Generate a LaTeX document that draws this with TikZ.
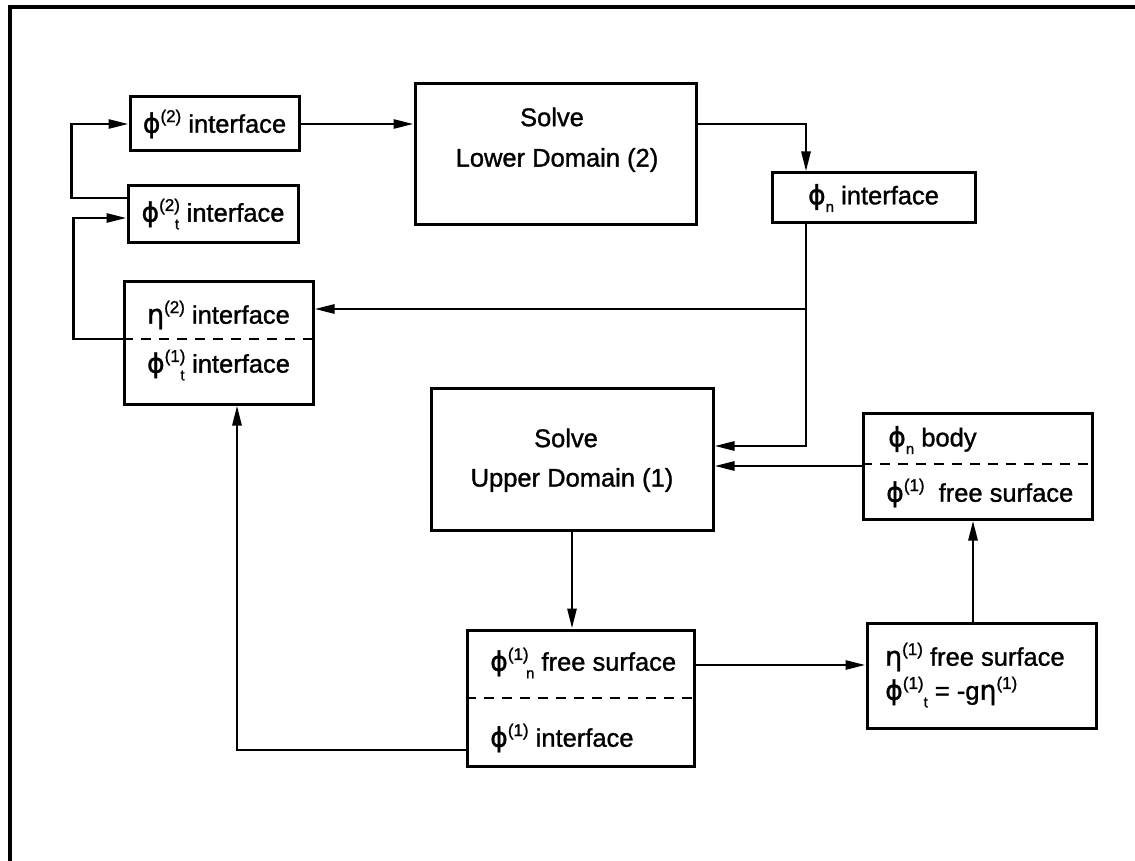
\documentclass[tikz,border=0pt]{standalone}
\usepackage{fontspec}
\setmainfont{Liberation Sans}[FakeBold=1.2,BoldFont={*},BoldFeatures={FakeBold=1.2}]
\newfontfamily\grk{DejaVu Sans}[Scale=1.05,FakeBold=1.2]
\usetikzlibrary{arrows.meta,calc}
\newcommand{\vphi}{{\grk ϕ}}
\newcommand{\veta}{{\grk η}}
\newcommand{\sps}[1]{\raisebox{0.42em}{\fontsize{17}{17}\selectfont #1}}
\newcommand{\sbs}[1]{\raisebox{-0.3em}{\fontsize{15}{15}\selectfont #1}}
\begin{document}
\begin{tikzpicture}[x=1pt,y=-1pt,
  box/.style={draw, line width=3pt, inner sep=0pt, font=\fontsize{25.5}{30}\selectfont},
  txt/.style={inner sep=0pt, font=\fontsize{25.5}{30}\selectfont},
  sep/.style={line width=2.2pt, dash pattern=on 10pt off 8pt},
  arr/.style={line width=2.8pt, -{Triangle[length=20pt,width=9pt]}},
  frame/.style={line width=3.5pt}]
\useasboundingbox (0,0) rectangle (1135,861);
\draw[frame] (10,861) -- (10,7) -- (1135,7);

% boxes
\node[box, minimum width=169pt, minimum height=54pt] (A) at (214.5,124) {\vphi\sps{(2)} interface};
\node[box, minimum width=170pt, minimum height=56pt] (B) at (213,214) {\vphi\sps{(2)}\kern-0.2em\sbs{t}\hspace{0.3em}interface};
\node[box, minimum width=189pt, minimum height=123pt] (C) at (218.5,342.5) {};
\node[box, minimum width=281pt, minimum height=141pt] (D) at (555.5,154.5) {};
\node[box, minimum width=203pt, minimum height=50pt] (E) at (873.5,198) {\vphi\sbs{n} interface};
\node[box, minimum width=282pt, minimum height=142pt] (F) at (572,459) {};
\node[box, minimum width=229pt, minimum height=106pt] (G) at (977.5,466) {};
\node[box, minimum width=229pt, minimum height=105pt] (H) at (981.5,675.5) {};
\node[box, minimum width=227pt, minimum height=136pt] (I) at (580.5,698) {};

% texts
\node[txt] (C1) at (218.5,315) {\veta\sps{(2)} interface};
\node[txt] (C2) at (218.5,365) {\vphi\sps{(1)}\kern-0.2em\sbs{t}\hspace{0.3em}interface};
\draw[sep] (C.west |- 0,339) -- (C.east |- 0,339);
\node[txt] (D1) at (552,117) {Solve};
\node[txt] (D2) at (557,160) {Lower Domain (2)};
\node[txt] (F1) at (566,438) {Solve};
\node[txt] (F2) at (572,480) {Upper Domain (1)};
\node[txt, anchor=west] (G1) at (888,440) {\vphi\sbs{n} body};
\node[txt, anchor=west] (G2) at (886,493) {\vphi\sps{(1)}\hspace{0.55em}free surface};
\draw[sep] (G.west |- 0,464) -- (G.east |- 0,464);
\node[txt, anchor=west] (H1) at (885,657) {\veta\sps{(1)} free surface};
\node[txt, anchor=west] (H2) at (885,692) {\vphi\sps{(1)}\sbs{t} = -g\veta\sps{(1)}};
\node[txt, anchor=west] (I1) at (490,663) {\vphi\sps{(1)}\kern-0.1em\sbs{n} free surface};
\node[txt, anchor=west] (I2) at (490,738) {\vphi\sps{(1)} interface};
\draw[sep] (I.west |- 0,698) -- (I.east |- 0,698);

% connectors
\draw[arr] ([yshift=16pt]B.west) -- ++(-55,0) |- (A.west);
\draw[arr] ([yshift=3.5pt]C.west) -- ++(-49,0) |- ([yshift=-4pt]B.west);
\draw[arr] (A.east) -- (A.east -| D.west);
\draw[arr] (A.east -| D.east) -| ([xshift=-67.5pt]E.north);
\coordinate (ES) at ([xshift=-67.5pt]E.south);
\draw[arr] (ES) |- ([yshift=33.5pt]C.east);
\draw[arr] (ES) |- ([yshift=13pt]F.east);
\draw[arr] (G.west) -- (G.west -| F.east);
\draw[arr] (F.south) -- (F.south |- I.north);
\draw[arr] ([yshift=33pt]I.east) -- ([yshift=33pt]I.east -| H.west);
\draw[arr] ([xshift=-8.5pt]H.north) -- ([xshift=-8.5pt]H.north |- G.south);
\draw[arr] ([yshift=-52pt]I.west) -| ([xshift=18.5pt]C.south);
\end{tikzpicture}
\end{document}
